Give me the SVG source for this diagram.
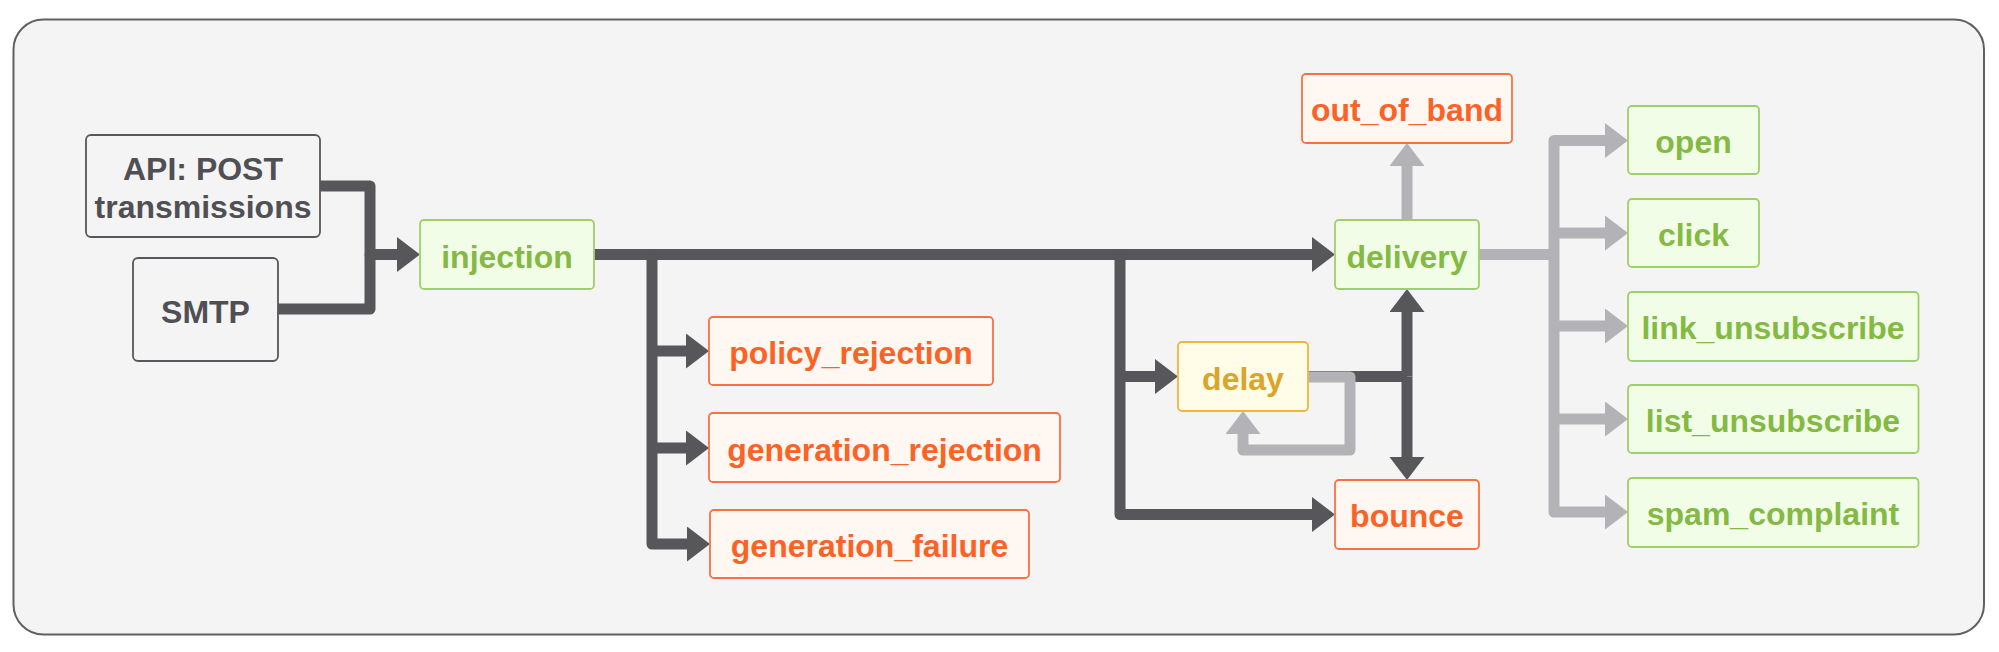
<svg xmlns="http://www.w3.org/2000/svg" width="1999" height="652" viewBox="0 0 1999 652">
<style>
text{font-family:"Liberation Sans",Arial,sans-serif;font-weight:bold;font-size:32px;text-anchor:middle}
.n rect{stroke-width:1.8}
.neutral rect{fill:#f4f4f4;stroke:#58585c}
.neutral text{fill:#505054}
.green rect{fill:#f2fde8;stroke:#9fcf6b}
.green text{fill:#84ba44}
.orange rect{fill:#fff7f1;stroke:#fb7043}
.orange text{fill:#fb6326}
.yellow rect{fill:#fffde8;stroke:#ebb83f}
.yellow text{fill:#dba42a}
.dk{fill:none;stroke:#56565b;stroke-width:11;stroke-linejoin:round}
.lt{fill:none;stroke:#b3b3b7;stroke-width:11;stroke-linejoin:round}
.dk.a{marker-end:url(#ad)}
.lt.a{marker-end:url(#al)}
</style>
<defs>
<marker id="ad" markerUnits="userSpaceOnUse" markerWidth="24" markerHeight="36" refX="1" refY="17.5" orient="auto"><path d="M0,0 L23,17.5 L0,35 z" fill="#56565b"/></marker>
<marker id="al" markerUnits="userSpaceOnUse" markerWidth="24" markerHeight="36" refX="1" refY="17.5" orient="auto"><path d="M0,0 L23,17.5 L0,35 z" fill="#b3b3b7"/></marker>
</defs>
<rect x="13.5" y="19.5" width="1970.5" height="615" rx="30" fill="#f4f4f4" stroke="#606064" stroke-width="2"/>
<g id="connectors">
<path class="dk a" d="M320,186 H370 V254.5 H398"/>
<path class="dk" d="M278,309 H370 V254.5"/>
<path class="dk a" d="M594,254.5 H1313"/>
<path class="dk a" d="M652,254.5 V544 H688"/>
<path class="dk a" d="M652,351 H687"/>
<path class="dk a" d="M652,448 H687"/>
<path class="dk a" d="M1120,254.5 V514.5 H1313"/>
<path class="dk a" d="M1120,376.5 H1156"/>
<path class="dk" d="M1308,376.5 H1407"/>
<path class="dk a" d="M1407,376.5 V311"/>
<path class="dk a" d="M1407,376.5 V458"/>
<path class="lt a" d="M1407,220 V165"/>
<path class="lt a" d="M1308,377 H1350 V450 H1243 V433"/>
<path class="lt" d="M1479,254.5 H1554"/>
<path class="lt a" d="M1554,326 V140.5 H1606"/>
<path class="lt a" d="M1554,326 V512 H1606"/>
<path class="lt a" d="M1554,233 H1606"/>
<path class="lt a" d="M1554,326 H1606"/>
<path class="lt a" d="M1554,419 H1606"/>
</g>
<g id="api" class="n neutral"><rect x="86" y="135" width="234" height="102" rx="5"/><text x="203" y="180">API: POST</text><text x="203" y="218">transmissions</text></g>
<g id="smtp" class="n neutral"><rect x="133" y="258" width="145" height="103" rx="5"/><text x="205.5" y="323">SMTP</text></g>
<g id="injection" class="n green"><rect x="420" y="220" width="174" height="69" rx="4"/><text x="507" y="267.5">injection</text></g>
<g id="policy_rejection" class="n orange"><rect x="709" y="317" width="284" height="68" rx="4"/><text x="851" y="364">policy_rejection</text></g>
<g id="generation_rejection" class="n orange"><rect x="709" y="413" width="351" height="69" rx="4"/><text x="884.5" y="461">generation_rejection</text></g>
<g id="generation_failure" class="n orange"><rect x="710" y="510" width="319" height="68" rx="4"/><text x="869.5" y="557">generation_failure</text></g>
<g id="out_of_band" class="n orange"><rect x="1302" y="74" width="210" height="69" rx="4"/><text x="1407" y="121">out_of_band</text></g>
<g id="delivery" class="n green"><rect x="1335" y="220" width="144" height="69" rx="4"/><text x="1407" y="267.5">delivery</text></g>
<g id="delay" class="n yellow"><rect x="1178" y="342" width="130" height="69" rx="4"/><text x="1243" y="389.5">delay</text></g>
<g id="bounce" class="n orange"><rect x="1335" y="480" width="144" height="69" rx="4"/><text x="1407" y="527">bounce</text></g>
<g id="open" class="n green"><rect x="1628" y="106" width="131" height="68" rx="4"/><text x="1693.5" y="153">open</text></g>
<g id="click" class="n green"><rect x="1628" y="199" width="131" height="68" rx="4"/><text x="1693.5" y="246">click</text></g>
<g id="link_unsubscribe" class="n green"><rect x="1628" y="292" width="290.5" height="69" rx="4"/><text x="1773" y="339">link_unsubscribe</text></g>
<g id="list_unsubscribe" class="n green"><rect x="1628" y="385" width="290.5" height="68" rx="4"/><text x="1773" y="432">list_unsubscribe</text></g>
<g id="spam_complaint" class="n green"><rect x="1628" y="478" width="290.5" height="69" rx="4"/><text x="1773" y="525">spam_complaint</text></g>
</svg>
